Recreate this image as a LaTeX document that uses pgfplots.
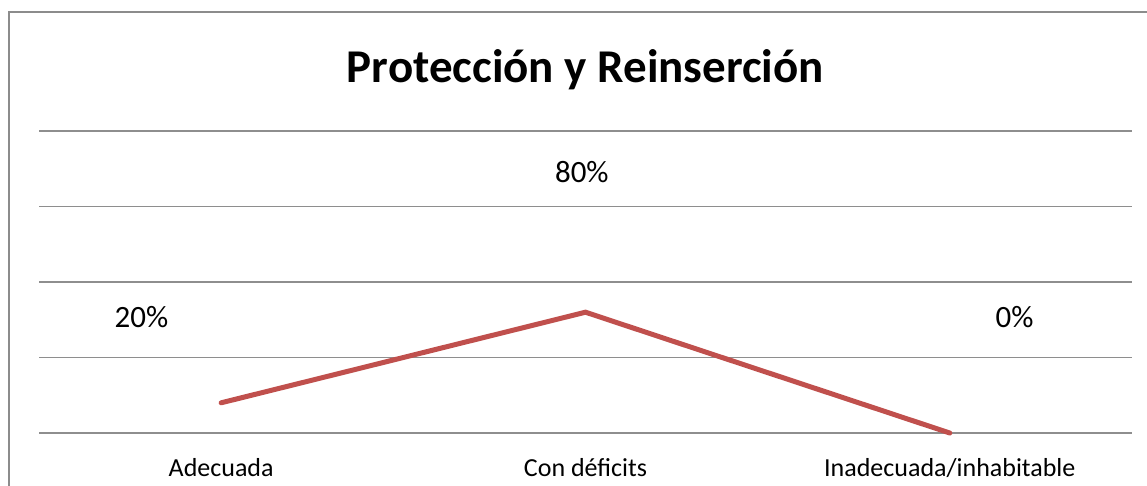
\documentclass[border=0pt]{standalone}
\usepackage{pgfplots}
\pgfplotsset{compat=1.18}
\usepackage{fontspec}
\setmainfont{Carlito}
\definecolor{linered}{HTML}{C0504D}
\definecolor{gridgray}{HTML}{8E8E8E}
\definecolor{framegray}{HTML}{8C8C8C}
\begin{document}
\begin{tikzpicture}
\clip (-39pt,-52pt) rectangle (1108pt,433pt);
\draw[framegray, line width=2pt] (-30pt,-200pt) rectangle (1300pt,421pt);
\begin{axis}[
  at={(0,0)}, anchor=south west,
  scale only axis, width=1093pt, height=302pt,
  xmin=-0.5, xmax=2.5, ymin=0, ymax=2,
  xtick={0,1,2},
  xticklabels={Adecuada, Con déficits, Inadecuada/inhabitable},
  ytick={0,0.5,1,1.5,2}, yticklabels={},
  ymajorgrids, grid style={gridgray, line width=1.8pt},
  axis line style={draw=none},
  major tick length=0pt,
  xticklabel style={font=\fontsize{26}{30}\selectfont, anchor=base, yshift=-43pt},
  clip=false,
]
\addplot[linered, line width=5pt, line cap=round, line join=miter, mark=none] coordinates {(0,0.2) (1,0.8) (2,0)};
\node[anchor=base, font=\fontsize{47}{52}\bfseries] at (axis cs:1,2.318) {Protección y Reinserción};
\node[anchor=base, font=\fontsize{31}{36}\selectfont] at (axis cs:-0.219,0.702) {20\%};
\node[anchor=base, font=\fontsize{31}{36}\selectfont] at (axis cs:0.99,1.662) {80\%};
\node[anchor=base, font=\fontsize{31}{36}\selectfont] at (axis cs:2.178,0.702) {0\%};
\end{axis}
\end{tikzpicture}
\end{document}
